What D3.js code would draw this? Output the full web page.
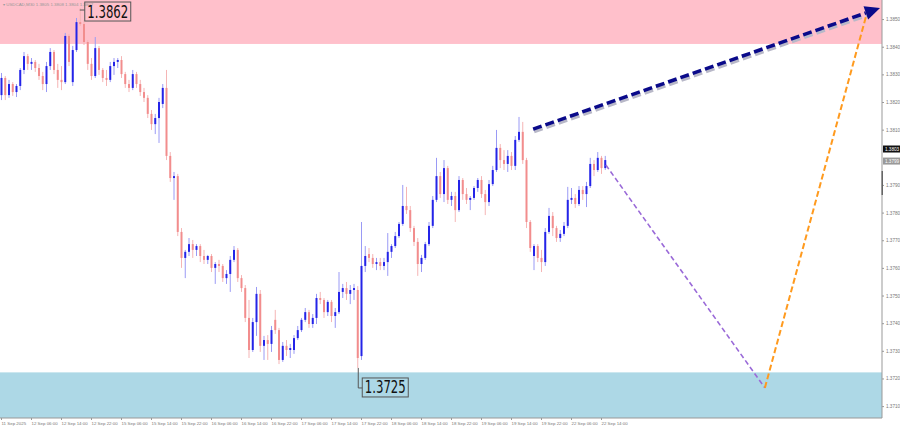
<!DOCTYPE html>
<html><head><meta charset="utf-8">
<script src="https://cdn.jsdelivr.net/npm/d3@7"></script>
<style>body{margin:0;background:#fff}svg{display:block}</style>
</head><body>
<svg id="c" width="900" height="430"></svg>
<script>
// Hourly candles [open, high, low, close]
const candles = [
[1.38225,1.38305,1.38207,1.38287],[1.38287,1.38294,1.38207,1.38225],[1.38225,1.38280,1.38215,1.38265],[1.38265,1.38272,1.38222,1.38236],
[1.38236,1.38265,1.38218,1.38258],[1.38258,1.38323,1.38243,1.38316],[1.38316,1.38381,1.38301,1.38366],[1.38366,1.38374,1.38316,1.38338],
[1.38338,1.38359,1.38316,1.38345],[1.38345,1.38352,1.38309,1.38323],[1.38323,1.38338,1.38280,1.38294],[1.38294,1.38309,1.38243,1.38265],
[1.38265,1.38345,1.38236,1.38330],[1.38330,1.38395,1.38316,1.38381],[1.38381,1.38388,1.38301,1.38316],[1.38316,1.38338,1.38251,1.38280],
[1.38280,1.38330,1.38243,1.38272],[1.38272,1.38450,1.38265,1.38439],[1.38439,1.38446,1.38330,1.38345],[1.38272,1.38403,1.38258,1.38388],
[1.38388,1.38504,1.38381,1.38489],[1.38489,1.38540,1.38475,1.38482],[1.38482,1.38497,1.38406,1.38417],[1.38417,1.38424,1.38316,1.38338],
[1.38338,1.38359,1.38280,1.38294],[1.38294,1.38435,1.38287,1.38395],[1.38395,1.38403,1.38298,1.38316],[1.38316,1.38323,1.38272,1.38287],
[1.38287,1.38316,1.38258,1.38280],[1.38280,1.38345,1.38272,1.38330],[1.38330,1.38359,1.38298,1.38345],[1.38345,1.38359,1.38323,1.38352],
[1.38352,1.38366,1.38287,1.38301],[1.38301,1.38309,1.38251,1.38265],[1.38265,1.38280,1.38236,1.38251],[1.38251,1.38316,1.38243,1.38301],
[1.38301,1.38309,1.38251,1.38265],[1.38265,1.38280,1.38222,1.38236],[1.38236,1.38251,1.38200,1.38215],[1.38215,1.38225,1.38142,1.38157],
[1.38157,1.38171,1.38099,1.38120],[1.38120,1.38157,1.38084,1.38142],[1.38142,1.38215,1.38052,1.38200],[1.38193,1.38265,1.38178,1.38251],
[1.38251,1.38316,1.37990,1.38005],[1.38005,1.38019,1.37911,1.37925],[1.37925,1.37947,1.37846,1.37932],[1.37932,1.37940,1.37715,1.37730],
[1.37730,1.37744,1.37600,1.37636],[1.37636,1.37665,1.37563,1.37658],[1.37658,1.37708,1.37643,1.37686],[1.37686,1.37701,1.37636,1.37665],
[1.37665,1.37686,1.37643,1.37679],[1.37679,1.37686,1.37621,1.37643],[1.37643,1.37665,1.37614,1.37629],[1.37629,1.37647,1.37614,1.37643],
[1.37643,1.37650,1.37585,1.37600],[1.37600,1.37621,1.37542,1.37614],[1.37614,1.37629,1.37585,1.37607],[1.37607,1.37614,1.37549,1.37563],
[1.37563,1.37592,1.37542,1.37578],[1.37578,1.37643,1.37513,1.37629],[1.37629,1.37679,1.37621,1.37665],[1.37665,1.37672,1.37549,1.37563],
[1.37563,1.37574,1.37513,1.37527],[1.37527,1.37538,1.37404,1.37419],[1.37419,1.37484,1.37274,1.37303],[1.37303,1.37419,1.37296,1.37404],
[1.37404,1.37531,1.37354,1.37506],[1.37506,1.37520,1.37296,1.37318],[1.37318,1.37354,1.37267,1.37339],[1.37339,1.37357,1.37267,1.37325],
[1.37325,1.37390,1.37296,1.37375],[1.37412,1.37448,1.37361,1.37375],[1.37375,1.37383,1.37252,1.37267],[1.37267,1.37332,1.37260,1.37318],
[1.37318,1.37339,1.37281,1.37303],[1.37303,1.37325,1.37274,1.37310],[1.37303,1.37357,1.37289,1.37346],[1.37346,1.37390,1.37339,1.37375],
[1.37375,1.37419,1.37368,1.37412],[1.37412,1.37455,1.37404,1.37440],[1.37440,1.37448,1.37383,1.37397],[1.37397,1.37433,1.37383,1.37419],
[1.37419,1.37506,1.37397,1.37491],[1.37491,1.37513,1.37469,1.37484],[1.37484,1.37491,1.37419,1.37440],[1.37440,1.37484,1.37426,1.37477],
[1.37477,1.37484,1.37404,1.37426],[1.37426,1.37455,1.37383,1.37440],[1.37440,1.37585,1.37433,1.37513],[1.37513,1.37542,1.37491,1.37527],
[1.37527,1.37549,1.37484,1.37506],[1.37506,1.37538,1.37469,1.37520],[1.37520,1.37542,1.37484,1.37527],[1.37520,1.37534,1.37238,1.37274],
[1.37281,1.37766,1.37267,1.37607],[1.37607,1.37679,1.37585,1.37643],[1.37650,1.37672,1.37621,1.37636],[1.37636,1.37650,1.37600,1.37614],
[1.37614,1.37636,1.37592,1.37621],[1.37621,1.37636,1.37592,1.37607],[1.37607,1.37636,1.37592,1.37621],[1.37621,1.37726,1.37571,1.37658],
[1.37658,1.37686,1.37636,1.37679],[1.37679,1.37730,1.37672,1.37715],[1.37715,1.37766,1.37708,1.37759],[1.37759,1.37900,1.37752,1.37824],
[1.37824,1.37893,1.37795,1.37809],[1.37809,1.37824,1.37730,1.37744],[1.37744,1.37752,1.37679,1.37694],[1.37694,1.37708,1.37571,1.37614],
[1.37614,1.37647,1.37585,1.37636],[1.37636,1.37694,1.37629,1.37686],[1.37686,1.37766,1.37679,1.37752],[1.37752,1.37860,1.37744,1.37846],
[1.37846,1.37998,1.37838,1.37932],[1.37932,1.37947,1.37853,1.37867],[1.37867,1.37990,1.37838,1.37961],[1.37961,1.37969,1.37831,1.37846],
[1.37846,1.37875,1.37824,1.37860],[1.37860,1.37875,1.37766,1.37809],[1.37809,1.37932,1.37802,1.37918],[1.37918,1.37925,1.37846,1.37867],
[1.37867,1.37889,1.37831,1.37846],[1.37846,1.37860,1.37809,1.37853],[1.37853,1.37896,1.37846,1.37889],[1.37889,1.37925,1.37875,1.37918],
[1.37918,1.37932,1.37853,1.37867],[1.37867,1.37882,1.37791,1.37838],[1.37838,1.37918,1.37824,1.37903],[1.37903,1.37969,1.37896,1.37954],
[1.37954,1.38099,1.37947,1.38034],[1.38034,1.38048,1.37961,1.37990],[1.37990,1.38026,1.37954,1.37976],[1.37976,1.38026,1.37947,1.38005],
[1.38005,1.38019,1.37954,1.37969],[1.37969,1.38077,1.37954,1.38063],[1.38063,1.38146,1.38056,1.38092],[1.38092,1.38128,1.37976,1.37990],
[1.37990,1.37998,1.37744,1.37766],[1.37766,1.37773,1.37658,1.37672],[1.37643,1.37686,1.37592,1.37679],[1.37679,1.37686,1.37621,1.37636],
[1.37636,1.37665,1.37585,1.37621],[1.37621,1.37744,1.37607,1.37730],[1.37730,1.37817,1.37723,1.37788],[1.37788,1.37802,1.37715,1.37744],
[1.37744,1.37752,1.37694,1.37708],[1.37708,1.37737,1.37694,1.37723],[1.37723,1.37766,1.37715,1.37752],[1.37752,1.37893,1.37744,1.37846],
[1.37846,1.37889,1.37831,1.37853],[1.37853,1.37867,1.37817,1.37831],[1.37831,1.37896,1.37824,1.37882],[1.37882,1.37896,1.37846,1.37867],
[1.37867,1.37911,1.37820,1.37896],[1.37896,1.37998,1.37889,1.37976],[1.37976,1.37990,1.37932,1.37954],[1.37954,1.38019,1.37947,1.37998],
[1.37998,1.38005,1.37940,1.37961],[1.37961,1.38005,1.37954,1.37990]
];
const timeLabels = ["11 Sep 2025","12 Sep 06:00","12 Sep 14:00","12 Sep 22:00","15 Sep 06:00","15 Sep 14:00","15 Sep 22:00",
"16 Sep 06:00","16 Sep 14:00","16 Sep 22:00","17 Sep 06:00","17 Sep 14:00","17 Sep 22:00","18 Sep 06:00","18 Sep 14:00",
"18 Sep 22:00","19 Sep 06:00","19 Sep 14:00","19 Sep 22:00","22 Sep 06:00","22 Sep 14:00"];
const timeLabelIdx = [0,8,16,24,32,40,48,56,64,72,80,88,96,104,112,120,128,136,144,152,160];
// 1.3800 is hidden behind the price tags in the reference
const priceTicks = [1.3710,1.3720,1.3730,1.3740,1.3750,1.3760,1.3770,1.3780,1.3790,1.3810,1.3820,1.3830,1.3840,1.3850];
const resistanceZone = [1.38410, 1.38569];
const supportZone = [1.37057, 1.37222];
const extremeText = ["1.3862", "1.3725"];
const extremeIdx = [21, 95];
const waveTarget = [[141.9, 1.38102], [234.4, 1.38540]];
const waveDown = [[161.3, 1.37972], [203.7, 1.37166]];
const waveUp = [[203.7, 1.37166], [230.7, 1.38511]];
const priceTags = [1.38030, 1.37990];
const priceTagText = ["1.3803", "1.3799"];
const header = "\u25BE USDCAD,M30  1.3805 1.3808 1.3804 1.3807";

const svg = d3.select("#c");
const plotR = 882, plotB = 418;
const x = d3.scaleLinear().domain([0, 161]).range([1, 604.75]);
const y = d3.scaleLinear().domain([1.38569, 1.37057]).range([0, 418]);

svg.append("rect").attr("width",900).attr("height",430).attr("fill","#fff");

// zones
svg.append("rect").attr("x",0).attr("width",plotR).attr("y",y(resistanceZone[1])).attr("height",y(resistanceZone[0])-y(resistanceZone[1])).attr("fill","#ffc0cb");
svg.append("rect").attr("x",0).attr("width",plotR).attr("y",y(supportZone[1])).attr("height",y(supportZone[0])-y(supportZone[1])).attr("fill","#add8e6");

// candles
const g = svg.append("g");
const cs = g.selectAll("g.c").data(candles).join("g");
cs.append("line")
  .attr("x1",(d,i)=>x(i)+0.5).attr("x2",(d,i)=>x(i)+0.5)
  .attr("y1",d=>y(d[1])).attr("y2",d=>y(d[2]))
  .attr("stroke",d=>d[3]>=d[0]?"#9a9af5":"#f5b5b5").attr("stroke-width",1);
cs.append("rect")
  .attr("x",(d,i)=>x(i)-0.5).attr("width",2)
  .attr("y",d=>y(Math.max(d[0],d[3])))
  .attr("height",d=>Math.max(1,Math.abs(y(d[0])-y(d[3]))))
  .attr("fill",d=>d[3]>=d[0]?"#2424e8":"#f28d8d");

// axes
const ax = svg.append("g").attr("transform",`translate(${plotR},0)`)
  .call(d3.axisRight(y).tickValues(priceTicks).tickSize(2).tickFormat(d3.format(".4f")));
ax.select(".domain").attr("d",`M0,0V${plotB}`).attr("stroke","#999");
ax.selectAll(".tick line").attr("stroke","#999");
ax.selectAll("text").attr("font-family","Liberation Sans, Arial, sans-serif").attr("font-size",4.6).attr("fill","#777").attr("x",4);

const bx = svg.append("g").attr("transform",`translate(0,${plotB})`)
  .call(d3.axisBottom(x).tickValues(timeLabelIdx).tickSize(2).tickFormat((d,i)=>timeLabels[i]));
bx.select(".domain").attr("d",`M0,0H${plotR}`).attr("stroke","#999");
bx.selectAll(".tick line").attr("stroke","#999");
bx.selectAll("text").attr("font-family","Liberation Sans, Arial, sans-serif").attr("font-size",4.4).attr("fill","#777")
  .attr("text-anchor","start").attr("dx",0).attr("y",4);

// header
svg.append("text").attr("x",3).attr("y",6).text(header)
  .attr("font-family","Liberation Sans, Arial, sans-serif").attr("font-size",4.4).attr("fill","#999");

// price tags at right
priceTags.forEach((p,k)=>{
  const yy = y(p) + (k===1 ? 1 : 0);
  svg.append("rect").attr("x",plotR+1).attr("y",yy-3.5).attr("width",17).attr("height",7).attr("fill",k===0?"#111":"#999");
  svg.append("text").attr("x",plotR+3).attr("y",yy+1.8).text(priceTagText[k])
    .attr("font-family","Liberation Sans, Arial, sans-serif").attr("font-size",4.6).attr("fill","#fff");
});
svg.append("rect").attr("x",plotR-0.5).attr("y",171).attr("width",1.5).attr("height",24).attr("fill","#666");

// extreme labels
function labelBox(px, py, txt){
  svg.append("rect").attr("x",px).attr("y",py).attr("width",46).attr("height",19)
    .attr("fill","none").attr("stroke","#555").attr("stroke-width",1);
  svg.append("text").attr("x",px+2.5).attr("y",py+15.5).text(txt)
    .attr("font-family","DejaVu Sans, sans-serif").attr("font-size",17).attr("fill","#111")
    .attr("textLength",41).attr("lengthAdjust","spacingAndGlyphs");
}
{
  const i = extremeIdx[0], cx = x(i), cy = y(candles[i][1]);
  svg.append("line").attr("x1",cx).attr("x2",cx+5).attr("y1",cy+2).attr("y2",cy+2).attr("stroke","#555");
  labelBox(cx+5, cy-6, extremeText[0]);
}
{
  const i = extremeIdx[1], cx = x(i), cy = y(candles[i][2]);
  svg.append("path").attr("d",`M${cx+1},${cy}V${cy+20}H${cx+5}`).attr("fill","none").attr("stroke","#555");
  labelBox(cx+5, cy+10, extremeText[1]);
}

// wave arrows
const pt = d=>[x(d[0]), y(d[1])];
const [a0,a1] = waveTarget.map(pt);
const ang = Math.atan2(a1[1]-a0[1], a1[0]-a0[0]);
const headL = 15, headW = 7;
const bxE = a1[0]-headL*Math.cos(ang), byE = a1[1]-headL*Math.sin(ang);
svg.append("line").attr("x1",a0[0]+1).attr("y1",a0[1]+2.5).attr("x2",bxE+1).attr("y2",byE+2.5)
  .attr("stroke","#b8b8c8").attr("stroke-width",3.5).attr("stroke-dasharray","9,4");
svg.append("line").attr("x1",a0[0]).attr("y1",a0[1]).attr("x2",bxE).attr("y2",byE)
  .attr("stroke","#0a0a8a").attr("stroke-width",3.5).attr("stroke-dasharray","9,4");
const nx = -Math.sin(ang), ny = Math.cos(ang);
svg.append("polygon").attr("points",[
  a1, [bxE+nx*headW, byE+ny*headW], [bxE-nx*headW, byE-ny*headW]
].map(p=>p.join(",")).join(" ")).attr("fill","#0a0a8a");

svg.append("path").attr("d",d3.line()(waveDown.map(pt)))
  .attr("stroke","#9a6ad8").attr("stroke-width",1.6).attr("stroke-dasharray","5,3").attr("fill","none");
svg.append("path").attr("d",d3.line()(waveUp.map(pt)))
  .attr("stroke","#ff9a1e").attr("stroke-width",2).attr("stroke-dasharray","6,3").attr("fill","none");
</script>
</body></html>
